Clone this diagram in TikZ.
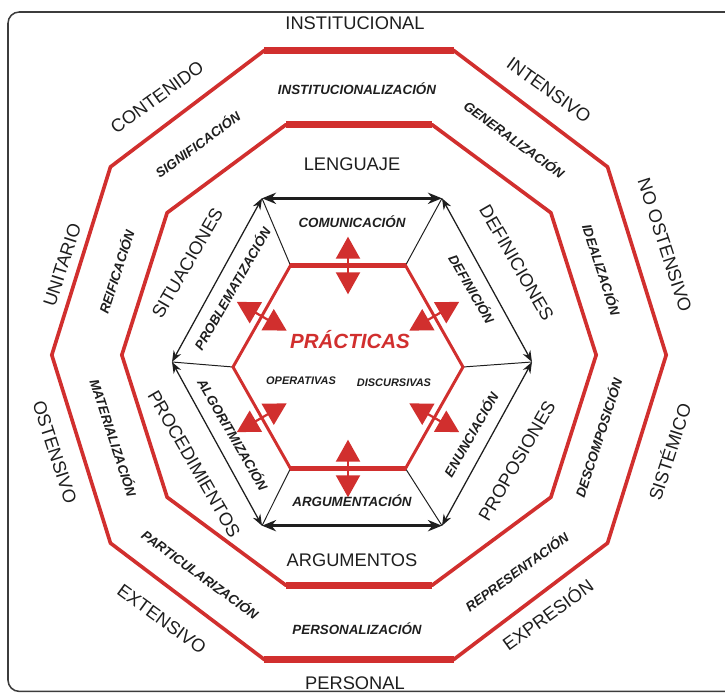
\documentclass[tikz,border=0pt]{standalone}
\usepackage{fontspec}
\setmainfont{Liberation Sans}
\usepackage{tikz}
\usetikzlibrary{arrows.meta,calc}
\definecolor{cRing}{HTML}{D12F2E}
\definecolor{cFrame}{HTML}{3C3C3C}
\definecolor{cInk}{HTML}{1E1E1E}

\begin{document}
\begin{tikzpicture}[x=1cm,y=1cm,
  ring/.style={draw=cRing,line width=2.6pt,line join=miter},
  ringbar/.style={draw=cRing,line width=5pt},
  hexred/.style={draw=cRing,line width=2.1pt,line join=miter},
  hexbar/.style={draw=cRing,line width=3.6pt},
  spoke/.style={draw=cInk,line width=0.7pt},
  sidearr/.style={draw=cInk,line width=0.9pt,{Stealth[length=8pt,width=6pt]}-{Stealth[length=8pt,width=6pt]}},
  barearr/.style={draw=cInk,line width=2pt,{Stealth[length=10pt,width=8pt]}-{Stealth[length=10pt,width=8pt]}},
  redarr/.style={draw=cRing,line width=1.6pt,{Triangle[length=0.55cm,width=0.6cm]}-{Triangle[length=0.55cm,width=0.6cm]}},
  big/.style={font=\fontsize{13}{15}\selectfont,text=cInk,inner sep=0pt,
    text height=9.3pt,text depth=0pt},
  ital/.style={font=\bfseries\itshape\fontsize{9.5}{11}\selectfont,text=cInk,inner sep=0pt,
    text height=6.8pt,text depth=0pt},
  tiny/.style={font=\bfseries\itshape\fontsize{7.8}{9}\selectfont,text=cInk,inner sep=0pt,
    text height=5.6pt,text depth=0pt}]

  \useasboundingbox (-8.975,-8.45) rectangle (9.15,8.875);
  \draw[cFrame,line width=1.1pt,rounded corners=8pt]
    (9.6,8.575) -- (-8.775,8.575) -- (-8.775,-8.41) -- (9.6,-8.41);

  % corner points
  \foreach \i in {0,...,9}
    {\coordinate (o\i) at ({0.96*8*cos(36*\i)},{8*sin(36*\i)});
     \coordinate (d\i) at ({0.98*6.05*cos(36*\i)},{6.05*sin(36*\i)});}
  \foreach \i in {0,...,5}
    {\coordinate (h\i) at ({-0.175+4.5*cos(60*\i)},{-0.175+4.725*sin(60*\i)});
     \coordinate (p\i) at ({-0.275+2.875*cos(60*\i)},{-0.3+2.93*sin(60*\i)});}

  % the two decagons
  \draw[ring] (o0) \foreach \i in {1,...,9}{-- (o\i)} -- cycle;
  \draw[ring] (d0) \foreach \i in {1,...,9}{-- (d\i)} -- cycle;
  \draw[ringbar] (o2) -- (o3) (o7) -- (o8);
  \draw[ringbar] (d2) -- (d3) (d7) -- (d8);

  % spokes and black hexagon
  \foreach \i in {0,...,5}
    {\draw[spoke] (p\i) -- (h\i);}
  \foreach \i/\j/\s in {0/1/sidearr,1/2/barearr,2/3/sidearr,3/4/sidearr,4/5/barearr,5/0/sidearr}
    {\draw[\s] (h\i) -- (h\j);}

  % red hexagon
  \draw[hexred] (p0) \foreach \i in {1,...,5}{-- (p\i)} -- cycle;
  \draw[hexbar] (p1) -- (p2) (p4) -- (p5);
  \foreach \i/\j/\a in {0/1/30,1/2/90,2/3/150,3/4/210,4/5/270,5/0/330}
    {\coordinate (m\i) at ($(p\i)!0.5!(p\j)$);
     \draw[redarr] ($(m\i)+(\a:0.72)$) -- ($(m\i)-(\a:0.72)$);}

  \node[font=\bfseries\itshape\fontsize{14.6}{16}\selectfont,text=cRing,inner sep=0pt] (prac) at (-0.225,0.375) {PRÁCTICAS};
  \node[tiny] (oper) at (-1.45,-0.65) {OPERATIVAS};
  \node[tiny] (disc) at (0.875,-0.7) {DISCURSIVAS};

  % labels along the black hexagon
  \foreach \i/\j/\a/\r/\e/\f/\d/\t/\u in {
    1/2/90/0/0.86/0/0.6/LENGUAJE/COMUNICACIÓN,
    0/1/30/-60/0.86/0/0.45/DEFINICIONES/DEFINICIÓN,
    2/3/150/60/0.86/0/0.45/SITUACIONES/PROBLEMATIZACIÓN,
    3/4/210/-60/0.74/0.15/0.45/PROCEDIMIENTOS/ALGORITMIZACIÓN,
    4/5/270/0/0.86/0/0.6/ARGUMENTOS/ARGUMENTACIÓN,
    5/0/330/60/0.86/0/0.45/PROPOSIONES/ENUNCIACIÓN}
    {\node[big,rotate=\r] (hx\i) at ($(h\i)!0.5!(h\j)+(\a:\e)+(\a+90:\f)$) {\t};
     \node[ital,rotate=\r] (hi\i) at ($(h\i)!0.5!(h\j)-(\a:\d)$) {\u};}

  % labels of the decagon rings
  \foreach \k/\r/\p/\q/\t/\s in {
    0/-72/{7.65,2.75}/{6.05,2.125}/{NO OSTENSIVO}/IDEALIZACIÓN,
    1/-36/{4.75,6.625}/{3.875,5.375}/INTENSIVO/GENERALIZACIÓN,
    2/0/{-0.1,8.3}/{-0.05,6.625}/INSTITUCIONAL/INSTITUCIONALIZACIÓN,
    3/36/{-5.05,6.45}/{-4.025,5.25}/CONTENIDO/SIGNIFICACIÓN,
    4/72/{-7.425,2.25}/{-6.05,2.075}/UNITARIO/REIFICACIÓN,
    5/-72/{-7.6,-2.425}/{-6.15,-2.075}/OSTENSIVO/MATERIALIZACIÓN,
    6/-36/{-4.925,-6.6}/{-3.975,-5.5}/EXTENSIVO/PARTICULARIZACIÓN,
    7/0/{-0.1,-8.2}/{-0.05,-6.875}/PERSONAL/PERSONALIZACIÓN,
    8/36/{4.725,-6.5}/{3.95,-5.425}/EXPRESIÓN/REPRESENTACIÓN,
    9/72/{7.775,-2.425}/{6.0,-2.075}/SISTÉMICO/DESCOMPOSICIÓN}
    {\node[big,rotate=\r] (out\k) at (\p) {\t};
     \node[ital,rotate=\r] (mid\k) at (\q) {\s};}
\end{tikzpicture}
\end{document}
